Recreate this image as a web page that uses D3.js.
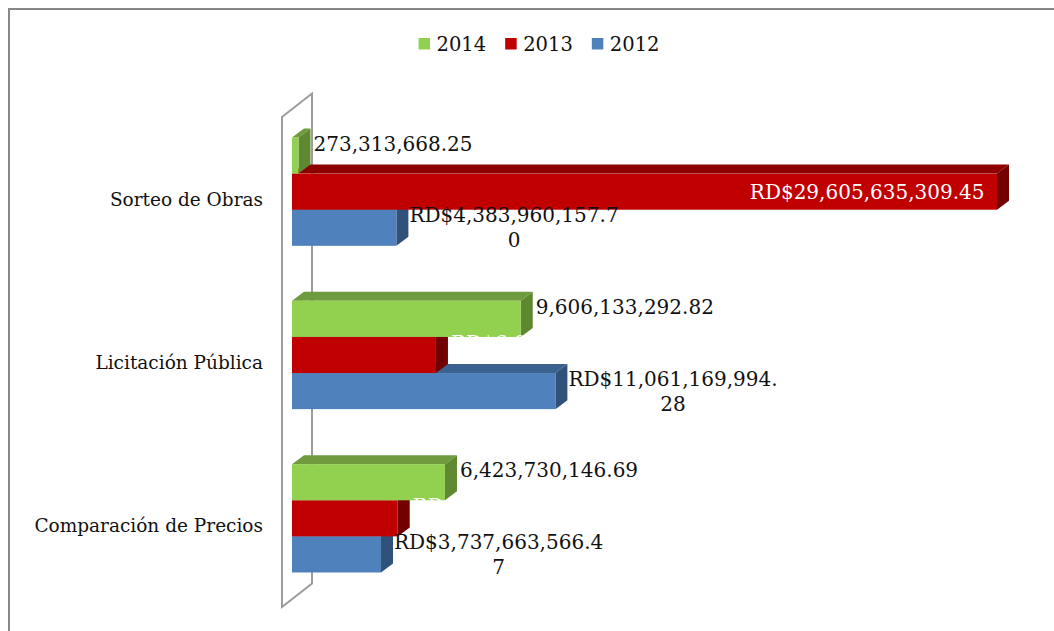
<!DOCTYPE html>
<html>
<head>
<meta charset="utf-8">
<script src="https://cdn.jsdelivr.net/npm/d3@7"></script>
<style>
  html, body { margin: 0; padding: 0; background: #ffffff; }
  svg { display: block; }
  text { font-family: "DejaVu Serif", serif; }
</style>
</head>
<body>
<script>
// ---------------- data ----------------
const categories = ["Sorteo de Obras", "Licitación Pública", "Comparación de Precios"];
const seriesNames = ["2014", "2013", "2012"];
const values2014 = [273313668.25, 9606133292.82, 6423730146.69];
const values2013 = [29605635309.45, 6045000000.00, 4440000000.00];
const values2012 = [4383960157.70, 11061169994.28, 3737663566.47];
const labelPrefix = ["", "RD$", "RD$"];

// ---------------- styles ----------------
const frontColors = ["#92D050", "#C00000", "#4F81BD"];
const topColors   = ["#6F9B3E", "#8E0000", "#3C6290"];
const sideColors  = ["#5F8930", "#720000", "#30517A"];
const labelColors = ["#111111", "#FFFFFF", "#111111"];

const W = 1054, H = 631;
const DX = 12, DY = -9;

const svg = d3.select("body").append("svg").attr("width", W).attr("height", H);
svg.append("rect").attr("width", W).attr("height", H).attr("fill", "#ffffff");

// outer chart frame (extends beyond the visible area on right/bottom)
svg.append("path")
  .attr("d", `M9,${H + 10} V9 H${W + 10}`)
  .attr("fill", "none").attr("stroke", "#878787").attr("stroke-width", 2);

const x = d3.scaleLinear().domain([0, 30e9]).range([292, 292 + 714.4]);
const y = d3.scaleBand().domain(categories).range([110, 600])
  .paddingInner(0.337).paddingOuter(0.1685);
const ys = d3.scaleBand().domain(seriesNames).range([0, y.bandwidth()]);

const seriesValues = [values2014, values2013, values2012];

// ---------------- side wall ----------------
const wx0 = x(0) - 10, wDX = 30, wDY = -23.5;
const wTop = y.range()[0] + 7, wBot = y.range()[1] + 7;
svg.append("path")
  .attr("d", `M${wx0},${wTop} L${wx0 + wDX},${wTop + wDY} L${wx0 + wDX},${wBot + wDY} L${wx0},${wBot} Z`)
  .attr("fill", "none").attr("stroke", "#9C9C9C").attr("stroke-width", 2);

// ---------------- bars ----------------
const records = [];
categories.forEach((c, ci) => {
  [2, 1, 0].forEach(si => {
    records.push({ cat: c, si, series: seriesNames[si], value: seriesValues[si][ci] });
  });
});

const bars = svg.append("g").selectAll("g.bar").data(records).join("g").attr("class", "bar");
bars.each(function (d) {
  const g = d3.select(this);
  const x0 = x(0), x1 = x(d.value);
  const yt = y(d.cat) + ys(d.series), h = ys.bandwidth();
  g.append("path")
    .attr("d", `M${x0},${yt} L${x0 + DX},${yt + DY} L${x1 + DX},${yt + DY} L${x1},${yt} Z`)
    .attr("fill", topColors[d.si]);
  g.append("path")
    .attr("d", `M${x1},${yt} L${x1 + DX},${yt + DY} L${x1 + DX},${yt + h + DY} L${x1},${yt + h} Z`)
    .attr("fill", sideColors[d.si]);
  g.append("rect")
    .attr("x", x0).attr("y", yt).attr("width", x1 - x0).attr("height", h)
    .attr("fill", frontColors[d.si]);
});

// ---------------- category labels ----------------
svg.append("g").selectAll("text").data(categories).join("text")
  .attr("x", 263)
  .attr("y", d => y(d) + y.bandwidth() / 2 + 7.5)
  .attr("text-anchor", "end")
  .attr("dominant-baseline", "central")
  .attr("font-size", 18.5)
  .attr("fill", "#111")
  .text(d => d);

// ---------------- data labels ----------------
const fmt = d3.format(",.2f");
const labels = svg.append("g");
const maxChars = 18;
records.forEach(d => {
  const txt = labelPrefix[d.si] + fmt(d.value);
  const x1 = x(d.value);
  const yt = y(d.cat) + ys(d.series), h = ys.bandwidth();
  const cy = yt + h / 2;
  const color = labelColors[d.si];
  if (d.si === 1 && x1 - x(0) > 300) {
    // inside end
    labels.append("text")
      .attr("x", x1 - 12.5).attr("y", cy)
      .attr("text-anchor", "end")
      .attr("dominant-baseline", "central")
      .attr("font-size", 20).attr("fill", color)
      .text(txt);
  } else if (d.si !== 2) {
    // single line, outside end
    labels.append("text")
      .attr("x", x1 + DX + 3).attr("y", cy - 12)
      .attr("dominant-baseline", "central")
      .attr("font-size", 20).attr("fill", color)
      .text(txt);
  } else {
    // wrapped, outside end
    const lines = txt.length > maxChars ? [txt.slice(0, maxChars), txt.slice(maxChars)] : [txt];
    const t = labels.append("text")
      .attr("font-size", 20).attr("fill", color)
      .attr("text-anchor", "middle")
      .attr("dominant-baseline", "central");
    const first = t.append("tspan").text(lines[0]);
    const w = first.node().getComputedTextLength();
    const cx = x1 + DX + 1 + w / 2;
    const lh = 25;
    const y0 = cy - (lines.length - 1) * lh / 2;
    first.attr("x", cx).attr("y", y0);
    for (let i = 1; i < lines.length; i++) {
      t.append("tspan").attr("x", cx).attr("y", y0 + i * lh).text(lines[i]);
    }
  }
});

// ---------------- legend ----------------
const legend = svg.append("g");
const items = [];
seriesNames.forEach((s, i) => {
  const g = legend.append("g");
  g.append("rect").attr("x", 0).attr("y", -6).attr("width", 11.5).attr("height", 11.5)
    .attr("fill", frontColors[i]);
  const t = g.append("text").attr("x", 18).attr("y", 0)
    .attr("dominant-baseline", "central")
    .attr("font-size", 19.5).attr("fill", "#111").text(s);
  const w = 18 + t.node().getComputedTextLength();
  items.push({ g, w });
});
const gap = 19;
const total = d3.sum(items, d => d.w) + gap * (items.length - 1);
let lx = 539 - total / 2;
items.forEach(it => {
  it.g.attr("transform", `translate(${lx},44)`);
  lx += it.w + gap;
});
</script>
</body>
</html>
